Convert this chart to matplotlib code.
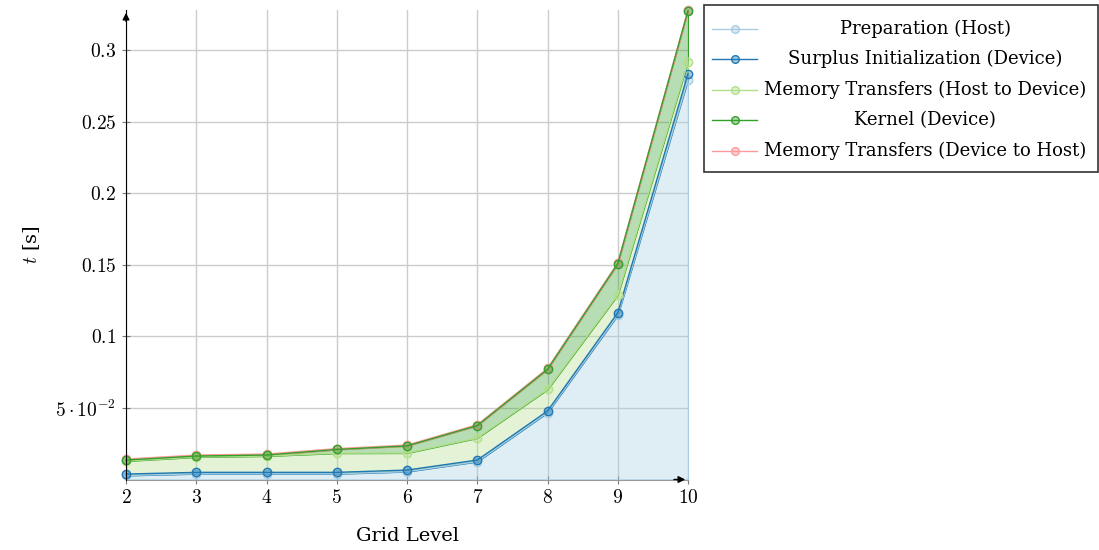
import numpy as np
import matplotlib
matplotlib.use('Agg')
import matplotlib.pyplot as plt
from matplotlib.lines import Line2D
from matplotlib.patches import Rectangle
from matplotlib.colors import to_rgba

plt.rcParams['mathtext.fontset'] = 'cm'
plt.rcParams['font.family'] = 'DejaVu Serif'

# grid levels and per-phase times [s] (stacked)
levels = [2, 3, 4, 5, 6, 7, 8, 9, 10]
prep_host = [0.0028, 0.0040, 0.0040, 0.0040, 0.0055, 0.0125, 0.0468, 0.1150, 0.2796]
surplus_dev = [0.0010, 0.0010, 0.0010, 0.0010, 0.0011, 0.0011, 0.0011, 0.0016, 0.0042]
mem_h2d = [0.0091, 0.0107, 0.0114, 0.0134, 0.0119, 0.0154, 0.0151, 0.0124, 0.0083]
kernel_dev = [0.0007, 0.0007, 0.0007, 0.0026, 0.0050, 0.0087, 0.0140, 0.0218, 0.0357]
mem_d2h = [0.0007, 0.0007, 0.0007, 0.0006, 0.0006, 0.0006, 0.0007, 0.0007, 0.0005]

names = ["Preparation (Host)", "Surplus Initialization (Device)",
         "Memory Transfers (Host to Device)", "Kernel (Device)",
         "Memory Transfers (Device to Host)"]
colors = ["#a6cee3", "#1f78b4", "#b2df8a", "#33a02c", "#fb9a99"]
series = [prep_host, surplus_dev, mem_h2d, kernel_dev, mem_d2h]

yticks = [0.05, 0.1, 0.15, 0.2, 0.25, 0.3]
ytick_labels = [r"$5\cdot10^{-2}$", "$0.1$", "$0.15$", "$0.2$", "$0.25$", "$0.3$"]

fig = plt.figure(figsize=(10.99, 5.5), dpi=100)
ax = fig.add_axes([126/1099, 1-479.5/550, 562/1099, 469.5/550])

x = np.array(levels)
tops = []
bottom = np.zeros(len(x))
for vals, c in zip(series, colors):
    top = bottom + np.array(vals)
    ax.fill_between(x, bottom, top, facecolor=to_rgba(c, 0.35), edgecolor=c,
                    linewidth=0.8, zorder=2)
    tops.append(top)
    bottom = top

# top series (device to host) first so kernel markers stay visible
order = [4, 0, 1, 2, 3]
for i in order:
    c = colors[i]
    ax.plot(x, tops[i], color=c, lw=1.0, marker='o', ms=6, mec=c,
            mfc=to_rgba(c, 0.4), mew=1.0, zorder=3, clip_on=False)

ax.set_xlim(2, 10)
ax.set_ylim(0, bottom.max())
ax.set_xticks(levels)
ax.set_xticklabels(["$%d$" % l for l in levels], fontsize=14)
ax.set_yticks(yticks)
ax.set_yticklabels(ytick_labels, fontsize=14)
ax.tick_params(direction='inout', length=6, width=0.8, color='#777777', pad=4)
ax.grid(True, color='#cccccc', lw=1.0)
ax.set_axisbelow(True)

for s in ['top', 'right']:
    ax.spines[s].set_visible(False)
ax.spines['left'].set_color('black')
ax.spines['left'].set_zorder(4)
ax.spines['bottom'].set_color('#999999')
ax.annotate('', xy=(0, 1.0), xytext=(0, 0.97), xycoords='axes fraction',
            arrowprops=dict(arrowstyle='-|>', color='black', lw=1,
                            mutation_scale=10), annotation_clip=False)
ax.annotate('', xy=(1.0, 0), xytext=(0.97, 0), xycoords='axes fraction',
            arrowprops=dict(arrowstyle='-|>', color='black', lw=1,
                            mutation_scale=10), annotation_clip=False)

ax.set_xlabel("Grid Level", fontsize=14, labelpad=14)
ax.set_ylabel("$t$ [s]", fontsize=14, labelpad=10)

# legend, pgfplots style: handles on the left, text centred
fig.add_artist(Rectangle((704/1099, 1-172/550), 394/1099, 167/550,
                         transform=fig.transFigure, facecolor='white',
                         edgecolor='#333333', lw=1.2))
rows = [29, 59, 90, 120, 151]
for name, c, ry in zip(names, colors, rows):
    yf = 1 - ry/550
    fig.add_artist(Line2D([712/1099, 757/1099], [yf, yf], color=c, lw=1.0,
                          transform=fig.transFigure))
    fig.add_artist(Line2D([735/1099], [yf], color=c, marker='o', ms=5.5, mec=c,
                          mfc=to_rgba(c, 0.4), transform=fig.transFigure))
    fig.text(925/1099, yf, name, ha='center', va='center', fontsize=13)

fig.savefig('out.png', dpi=100)
